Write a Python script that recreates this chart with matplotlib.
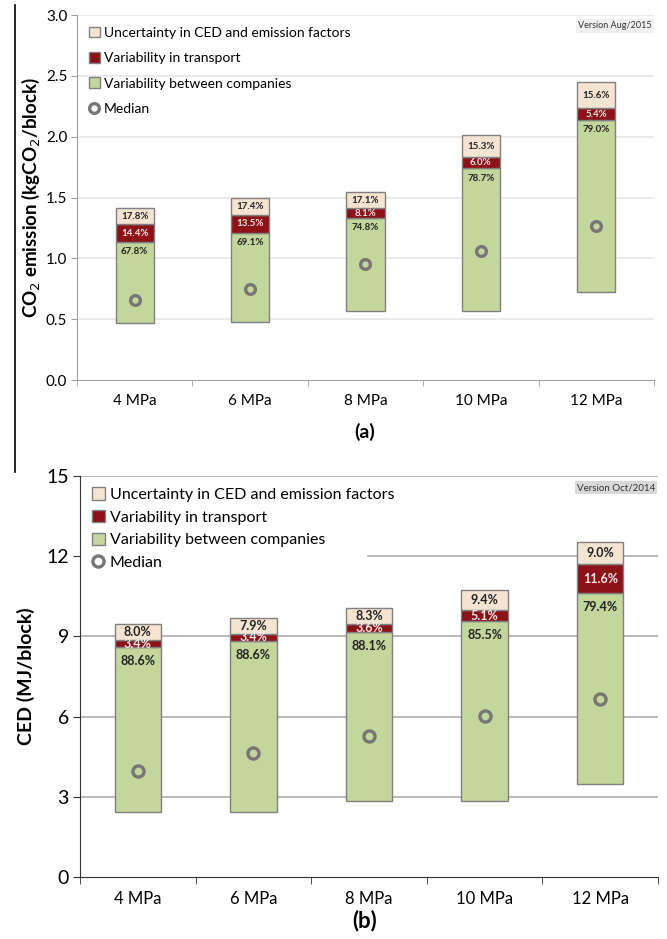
import numpy as np
import matplotlib.pyplot as plt
from matplotlib.patches import Patch
from matplotlib.lines import Line2D

plt.rcParams['font.family'] = ['Lato', 'DejaVu Sans']

categories = ['4 MPa', '6 MPa', '8 MPa', '10 MPa', '12 MPa']

# (a) CO2 emission, kgCO2/block
co2_low = [0.47, 0.48, 0.57, 0.57, 0.72]
co2_comp_top = [1.134, 1.21, 1.334, 1.739, 2.136]
co2_trans_top = [1.279, 1.356, 1.41, 1.83, 2.232]
co2_top = [1.416, 1.498, 1.542, 2.01, 2.451]
co2_median = [0.657, 0.745, 0.951, 1.057, 1.265]
co2_pct_unc = ['17.8%', '17.4%', '17.1%', '15.3%', '15.6%']
co2_pct_trans = ['14.4%', '13.5%', '8.1%', '6.0%', '5.4%']
co2_pct_comp = ['67.8%', '69.1%', '74.8%', '78.7%', '79.0%']

# (b) CED, MJ/block
ced_low = [2.43, 2.43, 2.85, 2.85, 3.48]
ced_comp_top = [8.60, 8.83, 9.16, 9.56, 10.62]
ced_trans_top = [8.85, 9.08, 9.44, 9.97, 11.68]
ced_top = [9.44, 9.69, 10.06, 10.73, 12.52]
ced_median = [3.96, 4.65, 5.28, 6.04, 6.66]
ced_pct_unc = ['8.0%', '7.9%', '8.3%', '9.4%', '9.0%']
ced_pct_trans = ['3.4%', '3.4%', '3.6%', '5.1%', '11.6%']
ced_pct_comp = ['88.6%', '88.6%', '88.1%', '85.5%', '79.4%']

legend_labels = ['Uncertainty in CED and emission factors', 'Variability in transport',
                 'Variability between companies', 'Median']

c_unc = '#f5e4d2'
c_trans = '#8c1218'
c_comp = '#c3d69b'
c_edge = '#808080'
c_med = '#767676'


def stacked_range(ax, low, comp_top, trans_top, top, median, p_unc, p_trans, p_comp,
                  width, pct_size, comp_off, msize):
    x = np.arange(len(categories)) + 0.5
    low = np.array(low)
    comp_top = np.array(comp_top)
    trans_top = np.array(trans_top)
    top = np.array(top)
    ax.bar(x, comp_top - low, width, bottom=low, color=c_comp, edgecolor=c_edge, lw=1, zorder=3)
    ax.bar(x, trans_top - comp_top, width, bottom=comp_top, color=c_trans, edgecolor=c_edge, lw=1, zorder=3)
    ax.bar(x, top - trans_top, width, bottom=trans_top, color=c_unc, edgecolor=c_edge, lw=1, zorder=3)
    ax.plot(x, median, 'o', ms=msize, mfc='none', mec=c_med, mew=2.4, zorder=4)
    for i in range(len(x)):
        ax.text(x[i], (top[i] + trans_top[i]) / 2, p_unc[i], ha='center', va='center',
                fontsize=pct_size, fontweight='bold', color='#222222', zorder=5)
        ax.text(x[i], (trans_top[i] + comp_top[i]) / 2, p_trans[i], ha='center', va='center',
                fontsize=pct_size, fontweight='bold', color='#f5e6e6', zorder=5)
        ax.annotate(p_comp[i], (x[i], comp_top[i]), xytext=(0, -comp_off), textcoords='offset points',
                    ha='center', va='center', fontsize=pct_size, fontweight='bold', color='#222222', zorder=5)
    ax.set_xlim(0, len(categories))
    ax.set_xticks(x)
    ax.set_xticklabels(categories)
    ax.set_xticks(np.arange(len(categories) + 1), minor=True)


def legend_handles(msize):
    return [Patch(facecolor=c_unc, edgecolor=c_edge),
            Patch(facecolor=c_trans, edgecolor=c_edge),
            Patch(facecolor=c_comp, edgecolor=c_edge),
            Line2D([], [], ls='none', marker='o', ms=msize, mfc='none', mec=c_med, mew=2.4)]


fig = plt.figure(figsize=(6.67, 9.39), dpi=100)

# ---- (a) ----
ax1 = fig.add_axes([0.1154, 0.5953, 0.8651, 0.3887])
stacked_range(ax1, co2_low, co2_comp_top, co2_trans_top, co2_top, co2_median,
              co2_pct_unc, co2_pct_trans, co2_pct_comp, 0.33, 7, 7, 7)
ax1.set_ylim(0, 3.0)
ax1.set_yticks(np.arange(0, 3.01, 0.5))
ax1.yaxis.set_major_formatter(plt.FormatStrFormatter('%.1f'))
for v in np.arange(0.5, 3.01, 0.5):
    ax1.axhline(v, color='#e8e8e8', lw=1.3, zorder=1)
for s in ['top', 'right']:
    ax1.spines[s].set_visible(False)
ax1.spines['left'].set_color('#a0a0a0')
ax1.spines['bottom'].set_color('#a0a0a0')
ax1.tick_params(axis='y', which='major', length=4, color='#a0a0a0', labelsize=11, pad=3)
ax1.tick_params(axis='x', which='major', length=0, labelsize=11, pad=10)
ax1.tick_params(axis='x', which='minor', length=4, color='#a0a0a0')
ax1.set_ylabel('CO$_2$ emission (kgCO$_2$/block)', fontsize=13.5, fontweight='bold', labelpad=3)
ax1.legend(legend_handles(7), legend_labels, loc='upper left', bbox_to_anchor=(0.0, 1.0),
           frameon=False, fontsize=10, handlelength=0.8, handleheight=0.8, handletextpad=0.3,
           labelspacing=0.95, borderaxespad=0.45)
ax1.text(0.996, 0.97, 'Version Aug/2015', transform=ax1.transAxes, ha='right', va='center',
         fontsize=6.5, color='#333333', bbox=dict(facecolor='#f0f0f0', edgecolor='none', pad=1.5))
fig.text(0.547, 0.54, '(a)', ha='center', va='center', fontsize=14, fontweight='bold')

# ---- (b) ----
ax2 = fig.add_axes([0.12, 0.0657, 0.8665, 0.4279])
stacked_range(ax2, ced_low, ced_comp_top, ced_trans_top, ced_top, ced_median,
              ced_pct_unc, ced_pct_trans, ced_pct_comp, 0.40, 9, 10, 8)
ax2.set_ylim(0, 15)
ax2.set_yticks([0, 3, 6, 9, 12, 15])
for v in [3, 6, 9, 15]:
    ax2.axhline(v, color='#a6a6a6', lw=1.1, zorder=1)
ax2.axhline(12, xmin=0.498, color='#a6a6a6', lw=1.1, zorder=1)
for s in ['top', 'right']:
    ax2.spines[s].set_visible(False)
ax2.spines['left'].set_color('#333333')
ax2.spines['bottom'].set_color('#333333')
ax2.tick_params(axis='y', which='major', length=5, color='#333333', labelsize=14, pad=3)
ax2.tick_params(axis='x', which='major', length=0, labelsize=12, pad=10)
ax2.tick_params(axis='x', which='minor', length=5, color='#333333')
ax2.set_ylabel('CED (MJ/block)', fontsize=14, fontweight='bold', labelpad=8)
ax2.legend(legend_handles(8), legend_labels, loc='upper left', bbox_to_anchor=(0.0, 1.0),
           frameon=False, fontsize=11.5, handlelength=0.8, handleheight=0.8, handletextpad=0.3,
           labelspacing=0.5, borderaxespad=0.35)
ax2.text(0.995, 0.97, 'Version Oct/2014', transform=ax2.transAxes, ha='right', va='center',
         fontsize=7, color='#333333', bbox=dict(facecolor='#d9d9d9', edgecolor='none', pad=1.5))
fig.text(0.547, 0.02, '(b)', ha='center', va='center', fontsize=16, fontweight='bold')

# stray vertical rule at the left edge
fig.add_artist(Line2D([0.0225, 0.0225], [0.9947, 0.497], color='black', lw=1.2))

fig.savefig('out.png', dpi=100)
